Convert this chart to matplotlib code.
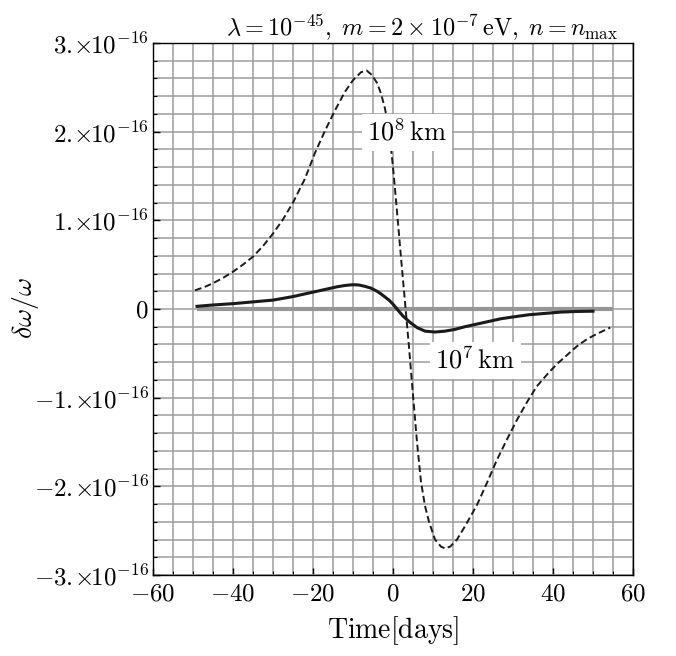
import numpy as np
import matplotlib
matplotlib.use("Agg")
import matplotlib.pyplot as plt
from matplotlib.ticker import MultipleLocator

plt.rcParams['mathtext.fontset'] = 'cm'
plt.rcParams['font.family'] = 'serif'
plt.rcParams['font.serif'] = ['cmr10', 'DejaVu Serif']
plt.rcParams['axes.unicode_minus'] = False

SCALE = 1e-16

# 10^8 km curve (dashed), values in units of 1e-16
t_far = [-49.5, -47, -45, -42.5, -40, -37.5, -35, -32.5, -30, -27.5, -25, -22, -19.5, -17,
         -14.5, -12, -10, -8, -6.6, -5.3, -4, -3, -2, -1, 0, 1, 2, 3, 4, 5, 6, 7, 8, 9,
         10.5, 12, 13, 14.3, 16, 18, 21, 23.5, 26, 28.5, 31, 33.5, 36, 38.5, 41, 43.5, 46,
         48.5, 51, 54.3]
v_far = [0.21, 0.25, 0.29, 0.35, 0.42, 0.50, 0.59, 0.71, 0.85, 1.01, 1.20, 1.47, 1.76, 2.01,
         2.24, 2.45, 2.58, 2.67, 2.69, 2.64, 2.55, 2.43, 2.26, 2.02, 1.60, 1.10, 0.58, 0.08,
         -0.43, -0.97, -1.50, -1.95, -2.22, -2.40, -2.60, -2.68, -2.70, -2.68, -2.60, -2.45,
         -2.21, -1.96, -1.70, -1.47, -1.25, -1.05, -0.87, -0.74, -0.62, -0.52, -0.42, -0.34,
         -0.28, -0.21]

# 10^7 km curve (solid)
t_near = [-49, -45, -40, -35, -30, -25, -20, -17, -14, -12, -10.5, -9.5, -8.5, -7, -5.5, -4,
          -3, -2, -1, 0, 1, 2.5, 4.25, 6, 8, 10.5, 13, 15.5, 18, 21, 24, 27, 30, 34, 38,
          42, 46, 50]
v_near = [0.03, 0.045, 0.06, 0.08, 0.10, 0.14, 0.19, 0.22, 0.25, 0.265, 0.272, 0.273, 0.27,
          0.255, 0.235, 0.20, 0.17, 0.135, 0.10, 0.055, 0.0, -0.08, -0.15, -0.21, -0.25,
          -0.26, -0.25, -0.23, -0.20, -0.17, -0.14, -0.11, -0.09, -0.065, -0.05, -0.035,
          -0.028, -0.025]

# reference (no effect)
t_zero = [-49, 55]
v_zero = [0, 0]

xticks = [-60, -40, -20, 0, 20, 40, 60]
yticks = [-3, -2, -1, 0, 1, 2, 3]
ytick_labels = [r'$-3.\!\!\times\!\!10^{-16}$', r'$-2.\!\!\times\!\!10^{-16}$',
                r'$-1.\!\!\times\!\!10^{-16}$', r'$0$', r'$1.\!\!\times\!\!10^{-16}$',
                r'$2.\!\!\times\!\!10^{-16}$', r'$3.\!\!\times\!\!10^{-16}$']

fig = plt.figure(figsize=(6.76, 6.56), dpi=100)
ax = fig.add_axes([0.2263, 0.1235, 0.7101, 0.811])

ax.plot(t_zero, np.array(v_zero) * SCALE, color='#959595', lw=3, solid_capstyle='butt', zorder=3)
ax.plot(t_near, np.array(v_near) * SCALE, color='#1a1a1a', lw=2.2, zorder=4)
ax.plot(t_far, np.array(v_far) * SCALE, color='#1a1a1a', lw=1.4, dashes=(3.5, 1.8), zorder=4)

ax.set_xlim(-60, 60)
ax.set_ylim(-3 * SCALE, 3 * SCALE)
ax.set_xticks(xticks)
ax.set_xticklabels([r'$%d$' % v if v >= 0 else r'$-%d$' % -v for v in xticks])
ax.set_yticks(np.array(yticks) * SCALE)
ax.set_yticklabels(ytick_labels)
ax.xaxis.set_minor_locator(MultipleLocator(5))
ax.yaxis.set_minor_locator(MultipleLocator(0.2 * SCALE))
ax.tick_params(which='both', direction='in', top=False, right=False, labelsize=18)
ax.tick_params(axis='y', pad=3)
ax.tick_params(axis='x', pad=6)
ax.tick_params(which='major', length=5, width=1)
ax.tick_params(which='minor', length=3, width=0.8)

ax.grid(which='both', color='#9d9d9d', lw=1.1, zorder=0)
ax.set_axisbelow(True)
for s in ax.spines.values():
    s.set_linewidth(1.0)

box = dict(facecolor='white', edgecolor='none', pad=4)
ax.text(3.5, 1.99 * SCALE, r'$10^{8}\,\mathrm{km}$', fontsize=19, ha='center', va='center', bbox=box, zorder=5)
ax.text(20.6, -0.58 * SCALE, r'$10^{7}\,\mathrm{km}$', fontsize=19, ha='center', va='center', bbox=box, zorder=5)

fig.text(0.624, 0.958,
         r'$\lambda = 10^{-45},\; m = 2 \times 10^{-7}\,\mathrm{eV},\; n = n_{\mathrm{max}}$',
         fontsize=17.5, ha='center', va='center')
ax.set_xlabel(r'$\mathrm{Time[days]}$', fontsize=20, labelpad=6)
fig.text(0.037, 0.53, r'$\delta\omega/\omega$', fontsize=20, rotation=90, ha='center', va='center')

fig.savefig('out.png', dpi=100)
